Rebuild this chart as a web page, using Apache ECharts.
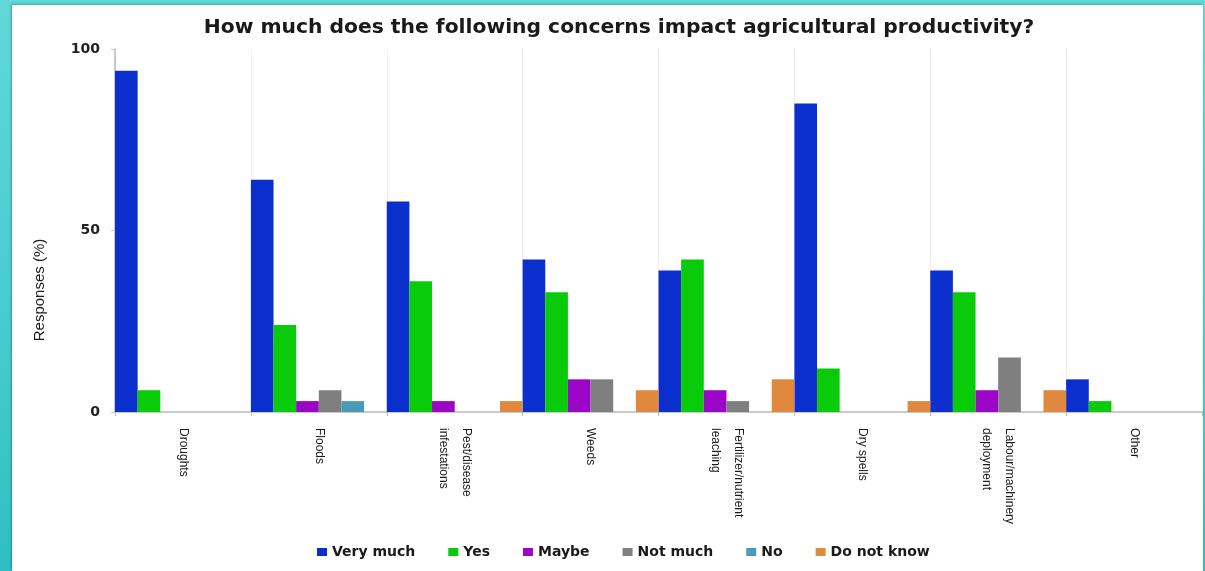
<!DOCTYPE html>
<html>
<head>
<meta charset="utf-8">
<script src="https://cdn.jsdelivr.net/npm/echarts@6/dist/echarts.min.js"></script>
<style>
html,body{margin:0;padding:0;}
body{width:1205px;height:571px;overflow:hidden;background:linear-gradient(180deg,#62d7d8 0%,#45cbcd 60%,#2dbfc3 100%);position:relative;}
#panel{position:absolute;left:12px;top:5px;width:1191px;height:566px;background:#fff;box-shadow:-1px -1px 2px rgba(0,0,0,0.25);}
#chart{position:absolute;left:0;top:0;width:1205px;height:571px;}
</style>
</head>
<body>
<div id="panel"></div>
<div id="chart"></div>
<script>
const categories = ['Droughts','Floods','Pest/disease\ninfestations','Weeds','Fertilizer/nutrient\nleaching','Dry spells','Labour/machinery\ndeployment','Other'];
const seriesNames = ['Very much','Yes','Maybe','Not much','No','Do not know'];
const veryMuch  = [94, 64, 58, 42, 39, 85, 39, 9];
const yes       = [6, 24, 36, 33, 42, 12, 33, 3];
const maybe     = [0, 3, 3, 9, 6, 0, 6, 0];
const notMuch   = [0, 6, 0, 9, 3, 0, 15, 0];
const no        = [0, 3, 0, 0, 0, 0, 0, 0];
const doNotKnow = [0, 0, 3, 6, 9, 3, 6, 0];
const yTicks = [0, 50, 100];
const colors = ['#0a2fcc', '#0acb0a', '#9a05c8', '#7f7f7f', '#4a9bb8', '#e0883d'];

const values = [veryMuch, yes, maybe, notMuch, no, doNotKnow];
const chart = echarts.init(document.getElementById('chart'), null, {renderer:'canvas'});
chart.setOption({
  animation: false,
  backgroundColor: 'transparent',
  color: colors,
  title: {
    text: 'How much does the following concerns impact agricultural productivity?',
    left: 614, textAlign: 'center', top: 13,
    textStyle: {fontFamily: 'DejaVu Sans', fontWeight: 'bold', fontSize: 20.3, color: '#1a1a1a'}
  },
  legend: {
    data: seriesNames,
    top: 540, left: 312,
    itemWidth: 10, itemHeight: 8, itemGap: 33,
    icon: 'rect',
    textStyle: {fontFamily: 'DejaVu Sans', fontWeight: 'bold', fontSize: 14, color: '#1a1a1a'}
  },
  grid: {left: 115, right: 3, top: 49, bottom: 159, containLabel: false},
  xAxis: {
    type: 'category',
    data: categories,
    axisLine: {lineStyle: {color: '#b8b8b8', width: 1.5}},
    axisTick: {show: true, length: 4, lineStyle: {color: '#b8b8b8'}},
    splitLine: {show: true, lineStyle: {color: '#f0f0f0'}},
    axisLabel: {
      rotate: -90, margin: 16, interval: 0,
      fontFamily: 'Liberation Sans Narrow, Liberation Sans, sans-serif', fontSize: 12, lineHeight: 23, color: '#1a1a1a'
    }
  },
  yAxis: {
    type: 'value', min: 0, max: 100, interval: 50,
    axisLine: {show: true, lineStyle: {color: '#b8b8b8', width: 1.5}},
    axisTick: {show: true, length: 4, lineStyle: {color: '#c8c8c8'}},
    splitLine: {show: false},
    axisLabel: {
      margin: 15,
      fontFamily: 'DejaVu Sans', fontWeight: 'bold', fontSize: 14, color: '#222',
      formatter: v => yTicks.includes(v) ? String(v) : ''
    }
  },
  graphic: [{
    type: 'text',
    x: 40, y: 290,
    rotation: Math.PI / 2,
    style: {
      text: 'Responses (%)',
      fontFamily: 'Liberation Sans Narrow, Liberation Sans, sans-serif', fontSize: 15,
      fill: '#1a1a1a', textAlign: 'center', textVerticalAlign: 'middle'
    }
  }],
  series: seriesNames.map((name, i) => ({
    name: name,
    type: 'bar',
    data: values[i],
    barGap: '0%',
    barCategoryGap: '0%'
  }))
});
</script>
</body>
</html>
